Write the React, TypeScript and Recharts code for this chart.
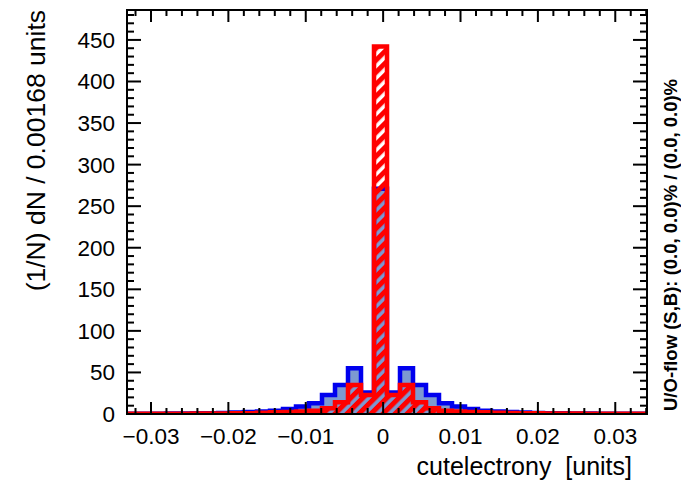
import React from 'react';
import { ComposedChart, Area, XAxis, YAxis, ReferenceArea } from 'recharts';

// ---- data ----
const BIN_LOW = -0.0331;
const BIN_WIDTH = 0.00168;
const N_BINS = 40;

const signal = [
  0.3, 0.3, 0.4, 0.5, 0.6, 0.8, 1.0, 1.3, 1.8, 2.3,
  3.0, 4.0, 6.0, 9.0, 13, 23, 35, 55, 26, 271,
  26, 55, 35, 23, 13, 9.0, 6.0, 4.0, 3.0, 2.3,
  1.8, 1.3, 1.0, 0.8, 0.6, 0.5, 0.4, 0.3, 0.3, 0.3,
];

const background = [
  0.3, 0.3, 0.3, 0.4, 0.4, 0.5, 0.6, 0.7, 0.8, 1.0,
  1.5, 2.0, 2.5, 3.0, 4.0, 7.0, 14, 35, 23, 442,
  23, 35, 14, 7.0, 4.0, 3.0, 2.5, 2.0, 1.5, 1.2,
  1.0, 0.8, 0.7, 0.6, 0.5, 0.4, 0.4, 0.3, 0.3, 0.3,
];

const X_TICKS = [
  -0.032, -0.03, -0.028, -0.026, -0.024, -0.022, -0.02, -0.018, -0.016, -0.014,
  -0.012, -0.01, -0.008, -0.006, -0.004, -0.002, 0, 0.002, 0.004, 0.006,
  0.008, 0.01, 0.012, 0.014, 0.016, 0.018, 0.02, 0.022, 0.024, 0.026,
  0.028, 0.03, 0.032, 0.034,
];
const X_MAJOR = [-0.03, -0.02, -0.01, 0, 0.01, 0.02, 0.03];
const X_MAJOR_LABELS = ['\u22120.03', '\u22120.02', '\u22120.01', '0', '0.01', '0.02', '0.03'];

const Y_TICKS = [
  0, 10, 20, 30, 40, 50, 60, 70, 80, 90, 100, 110, 120, 130, 140, 150, 160, 170,
  180, 190, 200, 210, 220, 230, 240, 250, 260, 270, 280, 290, 300, 310, 320, 330,
  340, 350, 360, 370, 380, 390, 400, 410, 420, 430, 440, 450, 460, 470, 480,
];
const Y_MAJOR = [0, 50, 100, 150, 200, 250, 300, 350, 400, 450];
const Y_MAJOR_LABELS = ['0', '50', '100', '150', '200', '250', '300', '350', '400', '450'];
const Y_MAX = 486;

const Y_TITLE = '(1/N) dN / 0.00168 units';
const X_TITLE = 'cutelectrony  [units]';
const OVERFLOW_TEXT = 'U/O-flow (S,B): (0.0, 0.0)% / (0.0, 0.0)%';

// ---- layout ----
const W = 681;
const H = 489;
const MARGIN = { top: 10, right: 34, bottom: 0, left: 0 };
const Y_AXIS_W = 127;
const X_AXIS_H = 75;
const PLOT_W = W - MARGIN.left - MARGIN.right - Y_AXIS_W;
const PLOT_H = H - MARGIN.top - MARGIN.bottom - X_AXIS_H;
const FONT = '"Liberation Sans", Arial, Helvetica, sans-serif';

const X_MIN = BIN_LOW;
const X_MAX = BIN_LOW + N_BINS * BIN_WIDTH;

const rows = [
  ...signal.map((s, i) => ({ x: BIN_LOW + i * BIN_WIDTH, s, b: background[i] })),
  { x: X_MAX, s: signal[N_BINS - 1], b: background[N_BINS - 1] },
];

const majorIndex = (arr: number[], v: number) =>
  arr.findIndex((m) => Math.abs(m - v) < 1e-9);

const XTick = (props: any) => {
  const { x, y, payload } = props;
  const mi = majorIndex(X_MAJOR, payload.value);
  const len = mi >= 0 ? 12 : 6;
  return (
    <g>
      <line x1={x} x2={x} y1={y} y2={y - len} stroke="#000" strokeWidth={2} />
      <line x1={x} x2={x} y1={y - PLOT_H} y2={y - PLOT_H + len} stroke="#000" strokeWidth={2} />
      {mi >= 0 && (
        <text x={x} y={y + 30} textAnchor="middle" fontSize={22.5} fontFamily={FONT} fill="#000">
          {X_MAJOR_LABELS[mi]}
        </text>
      )}
    </g>
  );
};

const YTick = (props: any) => {
  const { x, y, payload } = props;
  const mi = majorIndex(Y_MAJOR, payload.value);
  const len = mi >= 0 ? 14 : 7;
  return (
    <g>
      <line x1={x} x2={x + len} y1={y} y2={y} stroke="#000" strokeWidth={2} />
      <line x1={x + PLOT_W} x2={x + PLOT_W - len} y1={y} y2={y} stroke="#000" strokeWidth={2} />
      {mi >= 0 && (
        <text x={x - 12} y={y + 8} textAnchor="end" fontSize={22.5} fontFamily={FONT} fill="#000">
          {Y_MAJOR_LABELS[mi]}
        </text>
      )}
    </g>
  );
};

export default function App() {
  return (
    <div style={{ position: 'absolute', left: 0, top: 0, width: W, height: H, background: '#fff' }}>
      <ComposedChart width={W} height={H} data={rows} margin={MARGIN}>
        <defs>
          <pattern id="bgHatch" patternUnits="userSpaceOnUse" width="8.5" height="8.5" patternTransform="rotate(45)">
            <rect x="0" y="0" width="5" height="8.5" fill="#ff0000" />
          </pattern>
        </defs>
        <XAxis
          dataKey="x"
          type="number"
          domain={[X_MIN, X_MAX]}
          allowDataOverflow
          ticks={X_TICKS}
          interval={0}
          tickLine={false}
          tickSize={0}
          tickMargin={0}
          height={X_AXIS_H}
          axisLine={{ stroke: '#000', strokeWidth: 2 }}
          tick={<XTick />}
        />
        <YAxis
          type="number"
          domain={[0, Y_MAX]}
          allowDataOverflow
          ticks={Y_TICKS}
          interval={0}
          tickLine={false}
          tickSize={0}
          tickMargin={0}
          width={Y_AXIS_W}
          axisLine={{ stroke: '#000', strokeWidth: 2 }}
          tick={<YTick />}
        />
        <Area
          dataKey="s"
          type="stepAfter"
          baseValue={0}
          fill="#7d99d1"
          fillOpacity={1}
          stroke="#0000ee"
          strokeWidth={4.5}
          isAnimationActive={false}
          dot={false}
          activeDot={false}
        />
        <Area
          dataKey="b"
          type="stepAfter"
          baseValue={0}
          fill="url(#bgHatch)"
          fillOpacity={1}
          stroke="#ff0000"
          strokeWidth={4.5}
          isAnimationActive={false}
          dot={false}
          activeDot={false}
        />
        <ReferenceArea
          x1={X_MIN}
          x2={X_MAX}
          y1={0}
          y2={Y_MAX}
          fill="none"
          fillOpacity={0}
          stroke="#000"
          strokeWidth={2}
          ifOverflow="visible"
        />
      </ComposedChart>
      <svg
        width={W}
        height={H}
        style={{ position: 'absolute', left: 0, top: 0, pointerEvents: 'none' }}
      >
        <text
          x={45}
          y={10}
          transform="rotate(-90 45 10)"
          textAnchor="end"
          fontSize={26.5}
          fontFamily={FONT}
          fill="#000"
        >
          {Y_TITLE}
        </text>
        <text
          x={632}
          y={475}
          textAnchor="end"
          fontSize={25}
          fontFamily={FONT}
          fill="#000"
          style={{ whiteSpace: 'pre' }}
        >
          {X_TITLE}
        </text>
        <text
          x={677}
          y={411}
          transform="rotate(-90 677 411)"
          textAnchor="start"
          fontSize={18.5}
          fontWeight="bold"
          fontFamily={FONT}
          fill="#000"
        >
          {OVERFLOW_TEXT}
        </text>
      </svg>
    </div>
  );
}
